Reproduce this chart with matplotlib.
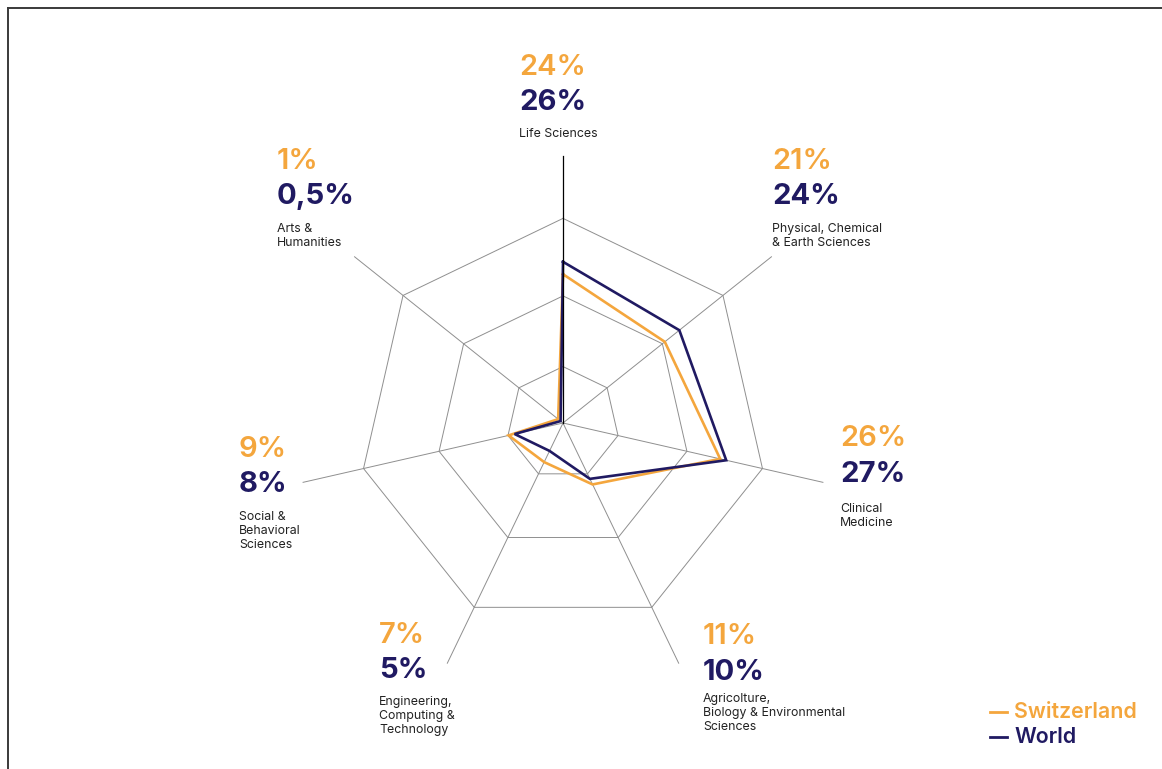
import numpy as np
import matplotlib
matplotlib.use('Agg')
from matplotlib import pyplot as plt
from matplotlib.lines import Line2D

plt.rcParams['font.family'] = ['Inter', 'DejaVu Sans']

# share of publications per field, clockwise from the top
fields = ['Life Sciences',
          'Physical, Chemical\n& Earth Sciences',
          'Clinical\nMedicine',
          'Agricolture,\nBiology & Environmental\nSciences',
          'Engineering,\nComputing &\nTechnology',
          'Social &\nBehavioral\nSciences',
          'Arts &\nHumanities']
switzerland = [24, 21, 26, 11, 7, 9, 1]
world = [26, 24, 27, 10, 5, 8, 0.5]
swiss_labels = ['24%', '21%', '26%', '11%', '7%', '9%', '1%']
world_labels = ['26%', '24%', '27%', '10%', '5%', '8%', '0,5%']

rings = [9.1, 20.5, 33]
spoke_len = 43

orange = '#F4A63D'
navy = '#201A62'
grey = '#8F8F8F'

W, H = 1162, 769
fig = plt.figure(figsize=(W / 100, H / 100), dpi=100)

# square axes centred on the web, 45 units each way
cx, cy, half = 563, 423, 279
ax = fig.add_axes([(cx - half) / W, (H - cy - half) / H, 2 * half / W, 2 * half / H])
ax.set_xlim(-45, 45)
ax.set_ylim(-45, 45)
ax.axis('off')

n = len(fields)
theta = np.deg2rad(90 - np.arange(n) * 360 / n)
cos_t, sin_t = np.cos(theta), np.sin(theta)

# heptagon grid
for r in rings:
    ax.plot(np.append(r * cos_t, r * cos_t[0]), np.append(r * sin_t, r * sin_t[0]),
            color=grey, lw=0.7, zorder=1)
for i in range(n):
    c = 'black' if i == 0 else grey
    ax.plot([0, spoke_len * cos_t[i]], [0, spoke_len * sin_t[i]],
            color=c, lw=0.9 if i == 0 else 0.7, zorder=1 if i else 4)

def closed(vals):
    v = np.array(vals, dtype=float)
    return np.append(v * cos_t, v[0] * cos_t[0]), np.append(v * sin_t, v[0] * sin_t[0])

xs, ys = closed(switzerland)
ax.plot(xs, ys, color=orange, lw=1.9, zorder=2, solid_joinstyle='miter')
xw, yw = closed(world)
ax.plot(xw, yw, color=navy, lw=1.9, zorder=3, solid_joinstyle='miter')

# value and field labels, anchored at the baseline of the first number (pixels)
anchors = [(519, 75), (772, 169), (840, 446), (703, 644), (379, 643), (239, 457), (277, 169)]
gaps = [62, 63, 66, 58, 62, 63, 63]

def fx(x):
    return x / W

def fy(y):
    return 1 - y / H

for i, (x, y) in enumerate(anchors):
    fig.text(fx(x), fy(y), swiss_labels[i], color=orange, fontsize=21,
             fontweight='semibold', va='baseline', ha='left')
    fig.text(fx(x), fy(y + 35.5), world_labels[i], color=navy, fontsize=21,
             fontweight='bold', va='baseline', ha='left')
    for j, line in enumerate(fields[i].split('\n')):
        fig.text(fx(x), fy(y + gaps[i] + 14.2 * j), line, color='#222222', fontsize=8.9,
                 va='baseline', ha='left')

# legend
for k, (name, c) in enumerate([('Switzerland', orange), ('World', navy)]):
    yb = 718 + 25 * k
    fig.add_artist(Line2D([fx(990), fx(1007)], [fy(yb - 6), fy(yb - 6)], color=c, lw=2))
    fig.text(fx(1014), fy(yb), name, color=c, fontsize=15.4, fontweight='semibold',
             va='baseline', ha='left')

# frame on the top and left edges
fig.add_artist(Line2D([fx(7.5), fx(W)], [fy(7.5), fy(7.5)], color='#3A3A3A', lw=1.4))
fig.add_artist(Line2D([fx(7.5), fx(7.5)], [fy(7.5), fy(H)], color='#3A3A3A', lw=1.4))

fig.savefig('out.png', dpi=100, facecolor='white')
